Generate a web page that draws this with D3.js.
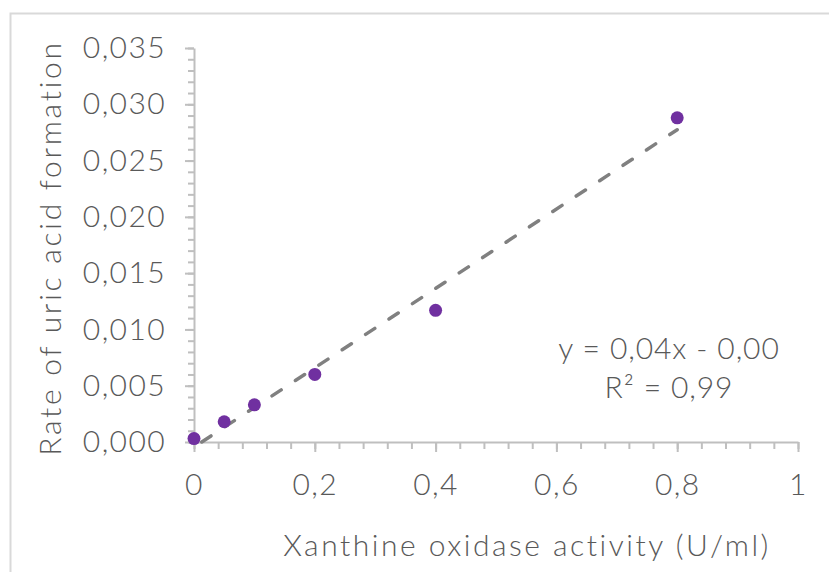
<!DOCTYPE html>
<html lang="en">
<head>
  <meta charset="UTF-8">
  <title>Uric acid formation</title>
  <script src="https://d3js.org/d3.v7.min.js"></script>
  <style>
    body { margin: 0; background: #fff; }
    text { font-family: Lato, "Noto Sans", sans-serif; font-weight: 300; fill: #595959; }
    .axis path, .axis line { stroke: #bfbfbf; stroke-width: 2; }
    .axis text { font-size: 30px; fill: #595959; letter-spacing: 1.4px; }
  </style>
</head>
<body>
  <svg id="chart" width="829" height="572"></svg>
  <script>
    const activity = [0, 0.05, 0.1, 0.2, 0.4, 0.8];
    const rate = [0.0003, 0.0018, 0.0033, 0.0060, 0.0117, 0.0288];
    const xTicks = [0, 0.2, 0.4, 0.6, 0.8, 1];
    const yTicks = [0, 0.005, 0.010, 0.015, 0.020, 0.025, 0.030, 0.035];

    const width = 829;
    const height = 572;
    const plot = { left: 194, right: 798, top: 48, bottom: 442 };

    const locale = d3.formatLocale({ decimal: ',', thousands: '.', grouping: [3], currency: ['', ''] });
    const fmtY = locale.format('.3f');
    const fmtX = d => (d === 0 || d === 1) ? String(d) : locale.format('.1f')(d);

    const svg = d3.select('#chart');

    // chart area border (only top and left are visible in the crop)
    svg.append('rect')
      .attr('x', 10.5).attr('y', 13.5)
      .attr('width', 900).attr('height', 700)
      .attr('fill', 'none')
      .attr('stroke', '#d9d9d9')
      .attr('stroke-width', 2);

    const x = d3.scaleLinear().domain([0, 1]).range([plot.left, plot.right]);
    const y = d3.scaleLinear().domain([0, 0.035]).range([plot.bottom, plot.top]);

    // minor ticks
    svg.append('g')
      .attr('class', 'axis')
      .attr('transform', `translate(${plot.left},0)`)
      .call(d3.axisLeft(y).tickValues(d3.range(0, 36).map(i => i / 1000)).tickSize(6).tickFormat(''))
      .call(g => g.select('.domain').remove());

    svg.append('g')
      .attr('class', 'axis')
      .attr('transform', `translate(0,${plot.bottom})`)
      .call(d3.axisBottom(x).tickValues(d3.range(0, 26).map(i => i * 0.04)).tickSize(7).tickFormat(''))
      .call(g => g.select('.domain').remove());

    // major axes
    svg.append('g')
      .attr('class', 'axis')
      .attr('transform', `translate(${plot.left},0)`)
      .call(d3.axisLeft(y).tickValues(yTicks).tickSize(9).tickSizeOuter(0).tickPadding(19).tickFormat(fmtY));

    svg.append('g')
      .attr('class', 'axis')
      .attr('transform', `translate(0,${plot.bottom})`)
      .call(d3.axisBottom(x).tickValues(xTicks).tickSize(10).tickSizeOuter(0).tickPadding(22).tickFormat(fmtX));

    // linear trendline (least squares), starting where it enters the plot
    const mx = d3.mean(activity);
    const my = d3.mean(rate);
    let sxy = 0, sxx = 0;
    activity.forEach((v, i) => { sxy += (v - mx) * (rate[i] - my); sxx += (v - mx) * (v - mx); });
    const slope = sxy / sxx;
    const intercept = my - slope * mx;
    const xStart = Math.max(0, -intercept / slope);
    const xEnd = d3.max(activity);

    svg.append('line')
      .attr('x1', x(xStart)).attr('y1', y(intercept + slope * xStart))
      .attr('x2', x(xEnd)).attr('y2', y(intercept + slope * xEnd))
      .attr('stroke', '#808080')
      .attr('stroke-width', 3.5)
      .attr('stroke-linecap', 'round')
      .attr('stroke-dasharray', '11,17');

    // points
    svg.append('g')
      .selectAll('circle')
      .data(activity)
      .enter().append('circle')
      .attr('cx', d => x(d))
      .attr('cy', (d, i) => y(rate[i]))
      .attr('r', 6.5)
      .attr('fill', '#7030a0');

    // equation
    const eq = svg.append('text')
      .attr('text-anchor', 'middle')
      .attr('font-size', 30)
      .style('letter-spacing', '0.9px');
    eq.append('tspan').attr('x', 669).attr('y', 359).text('y = 0,04x - 0,00');
    eq.append('tspan').attr('x', 669).attr('y', 398).text('R² = 0,99');

    // axis titles
    svg.append('text')
      .attr('x', 527).attr('y', 556)
      .attr('text-anchor', 'middle')
      .attr('font-size', 30)
      .style('letter-spacing', '2.5px')
      .text('Xanthine oxidase activity (U/ml)');

    svg.append('text')
      .attr('transform', 'translate(61,248) rotate(-90)')
      .attr('text-anchor', 'middle')
      .attr('font-size', 30)
      .style('letter-spacing', '2.7px')
      .text('Rate of uric acid formation');
  </script>
</body>
</html>
